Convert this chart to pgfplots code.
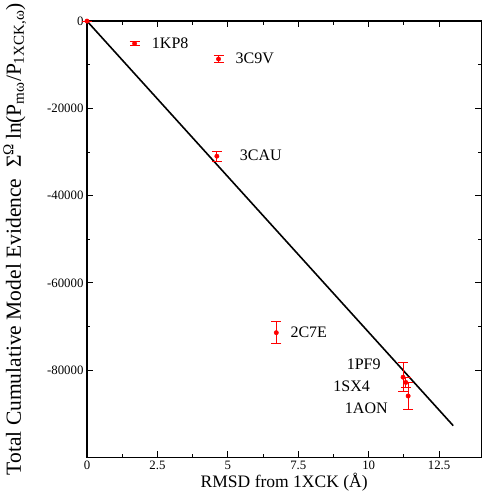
\documentclass[border=0pt]{standalone}
\usepackage{fontspec}
\setmainfont{Liberation Serif}
\usepackage{pgfplots}
\pgfplotsset{compat=1.18}

\pgfplotstableread{
x      y       e
0      0       0
1.69   -5140   450
4.67   -8690   800
4.61   -30950  1150
6.72   -71400  2500
11.22  -81600  3300
11.32  -82800  1200
11.40  -85900  3000
}\evidence

\begin{document}
\begin{tikzpicture}
\begin{axis}[
  scale only axis,
  width=394pt, height=436pt,
  xmin=0, xmax=14,
  ymin=-100000, ymax=0,
  xtick={0,2.5,...,12.5},
  ytick={-80000,-60000,-40000,-20000,0},
  minor x tick num=1,
  minor y tick num=1,
  tick align=inside,
  major tick length=6pt,
  minor tick length=3.5pt,
  every tick/.style={black, line width=0.9pt},
  axis line style={line width=1.4pt},
  scaled y ticks=false,
  /pgf/number format/assume math mode=true,
  yticklabel={\pgfmathprintnumber[fixed,1000 sep={}]{\tick}},
  xticklabel={\pgfmathprintnumber[fixed]{\tick}},
  tick label style={font=\fontsize{12.8}{15}\selectfont},
  xlabel={RMSD from 1XCK (Å)},
  ylabel={Total Cumulative Model Evidence\ \ Σ\textsuperscript{Ω}\,ln(P\textsubscript{mω}/P\textsubscript{1XCK,ω})},
  xlabel style={font=\fontsize{17.5}{20}\selectfont, yshift=3pt},
  ylabel style={font=\fontsize{21.5}{25}\selectfont, yshift=14pt},
  clip=false,
]
\addplot[black, line width=1.6pt] coordinates {(0,0) (13,-92700)};
\addplot[red, only marks, mark=*, mark size=2.2pt,
  error bars/.cd, y dir=both, y explicit,
  error bar style={red, line width=0.9pt},
  error mark options={red, line width=0.9pt, mark size=5pt, rotate=90}]
  table[x=x, y=y, y error=e] {\evidence};
\begin{scope}[every node/.style={font=\fontsize{16}{19}\selectfont}]
\node[anchor=west] at (axis cs:2.18,-5100) {1KP8};
\node[anchor=west] at (axis cs:5.15,-8600) {3C9V};
\node[anchor=west] at (axis cs:5.3,-30700) {3CAU};
\node[anchor=west] at (axis cs:7.1,-71400) {2C7E};
\node[anchor=east] at (axis cs:10.55,-78600) {1PF9};
\node[anchor=east] at (axis cs:10.17,-83600) {1SX4};
\node[anchor=east] at (axis cs:10.8,-88700) {1AON};
\end{scope}
\end{axis}
\end{tikzpicture}
\end{document}
